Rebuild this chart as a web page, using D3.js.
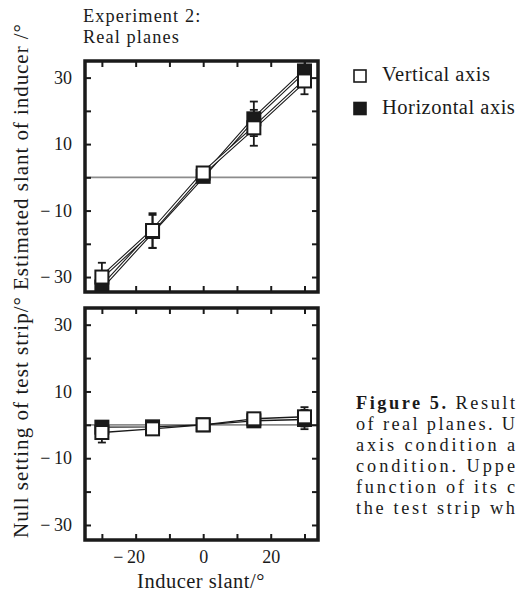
<!DOCTYPE html>
<html><head><meta charset="utf-8">
<script src="https://cdn.jsdelivr.net/npm/d3@7"></script>
<style>
html,body{margin:0;padding:0;background:#fff;overflow:hidden;}
svg{display:block;font-family:"Liberation Serif","Times New Roman",serif;}
</style></head><body>
<svg id="chart" width="519" height="591"></svg>
<script>
// Inducer slants (deg) and mean responses for the two axis conditions
const slants = [-30, -15, 0, 15, 30];
const vertEstimate = [-30, -16, 1.3, 14.9, 29];
const vertEstimateErr = [4.3, 5.2, 0.8, 5.4, 4];
const horizEstimate = [-33, -16.3, 0.3, 17.6, 32];
const horizEstimateErr = [4, 5, 0.8, 5.2, 4];
const vertNull = [-2.3, -1.2, 0, 1.8, 2.4];
const vertNullErr = [3, 1, 0.6, 1, 2.9];
const horizNull = [-0.7, -0.6, 0, 1.2, 1.6];
const horizNullErr = [1, 1, 0.6, 1, 2.9];
const xTicks = [-30, -20, -10, 0, 10, 20, 30];
const xTickLabels = [-20, 0, 20];
const yTicks = [-30, -20, -10, 0, 10, 20, 30];
const yTickLabels = [-30, -10, 10, 30];
const seriesNames = ["Vertical axis", "Horizontal axis"];
const headerLines = ["Experiment 2:", "Real planes"];
// caption lines as far as the page width shows them
const captionLines = [
  ["Figure 5.", " Result"],
  ["", "of real planes. U"],
  ["", "axis condition a"],
  ["", "condition. Uppe"],
  ["", "function of its c"],
  ["", "the test strip wh"]
];

const svg = d3.select("#chart");
const ink = "#1a1a1a";
const fmt = d => d < 0 ? "\u2212\u2009" + Math.abs(d) : String(d);

const x = d3.scaleLinear().domain([-35, 34]).range([85, 318]);

const panels = [
  { id: "upper", y0: 61, y1: 292, est: [vertEstimate, horizEstimate], err: [vertEstimateErr, horizEstimateErr],
    label: "Estimated slant of inducer /\u00B0", labelLen: 266, cased: true, xLabels: false },
  { id: "lower", y0: 308, y1: 540, est: [vertNull, horizNull], err: [vertNullErr, horizNullErr],
    label: "Null setting of test strip/\u00B0", labelLen: 241, cased: false, xLabels: true }
];

const defs = svg.append("defs");

panels.forEach(p => {
  const y = d3.scaleLinear().domain([-34.5, 35]).range([p.y1, p.y0]);
  const g = svg.append("g");
  const [xl, xr] = x.range();

  defs.append("clipPath").attr("id", "clip-" + p.id)
    .append("rect").attr("x", xl).attr("y", p.y0).attr("width", xr - xl).attr("height", p.y1 - p.y0);
  const plot = g.append("g").attr("clip-path", `url(#clip-${p.id})`);

  // zero reference line
  plot.append("line").attr("x1", xl).attr("x2", xr)
    .attr("y1", y(0)).attr("y2", y(0))
    .attr("stroke", "#8c8c8c").attr("stroke-width", 1.6);

  // inward ticks on all four sides
  const styleAxis = sel => {
    sel.select(".domain").remove();
    sel.selectAll(".tick line").attr("stroke", ink).attr("stroke-width", 2);
    sel.selectAll("text").attr("fill", ink).attr("font-family", "Liberation Serif, serif");
  };
  g.append("g").attr("transform", `translate(${xl},0)`)
    .call(d3.axisLeft(y).tickValues(yTicks).tickSize(-6).tickPadding(13)
      .tickFormat(d => yTickLabels.includes(d) ? fmt(d) : ""))
    .call(styleAxis)
    .selectAll("text").attr("font-size", 18);
  g.append("g").attr("transform", `translate(${xr},0)`)
    .call(d3.axisRight(y).tickValues(yTicks).tickSize(-6).tickFormat(""))
    .call(styleAxis);
  g.append("g").attr("transform", `translate(0,${p.y0})`)
    .call(d3.axisTop(x).tickValues(xTicks).tickSize(-6).tickFormat(""))
    .call(styleAxis);
  g.append("g").attr("transform", `translate(0,${p.y1})`)
    .call(d3.axisBottom(x).tickValues(xTicks).tickSize(-6).tickPadding(10)
      .tickFormat(d => p.xLabels && xTickLabels.includes(d) ? fmt(d) : ""))
    .call(styleAxis)
    .selectAll("text").attr("font-size", 18)
    .attr("dx", d => d < 0 ? -7 : 0);

  const line = d3.line().x((d, i) => x(slants[i])).y(d => y(d));

  // error bars
  p.est.forEach((vals, s) => {
    vals.forEach((v, i) => {
      const e = p.err[s][i];
      const cx = x(slants[i]);
      const eg = plot.append("g").attr("stroke", ink).attr("stroke-width", 1.8);
      eg.append("line").attr("x1", cx).attr("x2", cx).attr("y1", y(v - e)).attr("y2", y(v + e));
      [v - e, v + e].forEach(t => eg.append("line")
        .attr("x1", cx - 4).attr("x2", cx + 4).attr("y1", y(t)).attr("y2", y(t)));
    });
  });

  // connecting lines
  [1, 0].forEach(s => {
    if (p.cased) {
      plot.append("path").attr("d", line(p.est[s])).attr("fill", "none")
        .attr("stroke", ink).attr("stroke-width", 3.4);
      plot.append("path").attr("d", line(p.est[s])).attr("fill", "none")
        .attr("stroke", "#fff").attr("stroke-width", 1.2);
    } else {
      plot.append("path").attr("d", line(p.est[s])).attr("fill", "none")
        .attr("stroke", ink).attr("stroke-width", 1.4);
    }
  });

  // markers: filled (horizontal) beneath open (vertical)
  const sz = 13;
  [1, 0].forEach(s => {
    plot.selectAll(null).data(p.est[s]).join("rect")
      .attr("x", (d, i) => x(slants[i]) - sz / 2).attr("y", d => y(d) - sz / 2)
      .attr("width", sz).attr("height", sz)
      .attr("fill", s === 1 ? ink : "#fff")
      .attr("stroke", ink).attr("stroke-width", 2);
  });

  // frame on top of everything
  g.append("rect").attr("x", xl).attr("y", p.y0)
    .attr("width", xr - xl).attr("height", p.y1 - p.y0)
    .attr("fill", "none").attr("stroke", ink).attr("stroke-width", 3.5);

  // axis title
  svg.append("text").attr("transform", `translate(28,${p.y1 - 2}) rotate(-90)`)
    .attr("font-size", 21).attr("fill", ink)
    .attr("textLength", p.labelLen).attr("lengthAdjust", "spacing").text(p.label);
});

// header (two lines)
headerLines.forEach((t, i) => svg.append("text").attr("x", 83).attr("y", 22 + i * 21)
  .attr("font-size", 18.3).attr("fill", ink).attr("letter-spacing", 1.1).text(t));

// x-axis title
svg.append("text").attr("x", 201).attr("y", 588).attr("text-anchor", "middle")
  .attr("font-size", 20.5).attr("fill", ink).attr("letter-spacing", 0.5).text("Inducer slant/\u00B0");

// legend
seriesNames.forEach((name, i) => {
  const ly = 76 + i * 32.5;
  svg.append("rect").attr("x", 354).attr("y", ly - 6).attr("width", 12).attr("height", 12)
    .attr("fill", i === 1 ? ink : "#fff").attr("stroke", ink).attr("stroke-width", 1.6);
  svg.append("text").attr("x", 382).attr("y", ly + 5).attr("font-size", 20.5).attr("fill", ink)
    .attr("letter-spacing", 0.5).text(name);
});

// caption, one line per text element
captionLines.forEach((ln, i) => {
  const t = svg.append("text").attr("font-size", 18.3).attr("fill", ink)
    .attr("x", 356).attr("y", 409 + i * 21)
    .attr("textLength", 159).attr("lengthAdjust", "spacing");
  if (ln[0]) t.append("tspan").attr("font-weight", "bold").text(ln[0]);
  t.append("tspan").text(ln[1]);
});
</script>
</body></html>
